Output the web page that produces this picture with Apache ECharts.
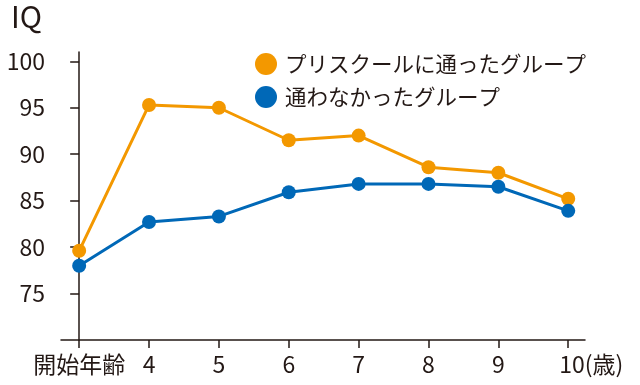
<!DOCTYPE html>
<html><head><meta charset="utf-8">
<script src="https://cdn.jsdelivr.net/npm/echarts@6/dist/echarts.min.js"></script>
<style>html,body{margin:0;padding:0;background:#fff}#c{width:640px;height:385px}</style>
</head><body><div id="c"></div>
<script>
const categories = ['開始年齢', '4', '5', '6', '7', '8', '9', '10'];
const preschool = [79.6, 95.3, 95.0, 91.5, 92.0, 88.6, 88.0, 85.2];
const noPreschool = [78.0, 82.7, 83.3, 85.9, 86.8, 86.8, 86.5, 83.9];
const yTicks = [75, 80, 85, 90, 95, 100];
const seriesNames = ['プリスクールに通ったグループ', '通わなかったグループ'];

const FONT = '"Noto Sans CJK JP", "Noto Sans", sans-serif';
const INK = '#231815';
const idx = categories.map((_, i) => i);
const chart = echarts.init(document.getElementById('c'), null, {renderer: 'canvas'});
chart.setOption({
  animation: false,
  backgroundColor: '#fff',
  textStyle: {fontFamily: FONT, color: INK},
  title: {text: 'IQ', left: 11, top: 2, padding: 0,
    textStyle: {fontFamily: FONT, fontSize: 30, fontWeight: 'normal', color: INK}},
  legend: {
    orient: 'vertical', left: 255, top: 53, padding: 0, itemGap: 11,
    itemWidth: 22, itemHeight: 22,
    data: [{name: seriesNames[0], icon: 'circle'}, {name: seriesNames[1], icon: 'circle'}],
    textStyle: {fontFamily: FONT, fontSize: 21.5, color: INK, lineHeight: 22, padding: [0, 0, 0, 3]}
  },
  grid: {left: 61, right: 55, top: 52, bottom: 45, containLabel: false},
  xAxis: {
    type: 'value', min: -0.26, max: 7.24, interval: 1,
    splitLine: {show: false},
    axisLine: {show: true, lineStyle: {color: INK, width: 1.5}},
    axisTick: {show: true, length: 8, lineStyle: {color: INK, width: 1.5}, customValues: idx},
    axisLabel: {
      customValues: idx, margin: 13, fontSize: 23, color: INK, fontFamily: FONT,
      formatter: v => {
        const i = Math.round(v);
        if (i === categories.length - 1) return '{pad|}' + categories[i] + '(歳)';
        return categories[i];
      },
      rich: {pad: {width: 46}}
    }
  },
  yAxis: {
    type: 'value', min: 70, max: 101, interval: 5,
    splitLine: {show: false},
    axisLine: {show: true, lineStyle: {color: INK, width: 1.5}},
    axisTick: {show: true, length: 9, lineStyle: {color: INK, width: 1.5}, customValues: yTicks},
    axisLabel: {customValues: yTicks, margin: 16, fontSize: 23, color: INK, fontFamily: FONT}
  },
  series: [
    {name: seriesNames[0], type: 'line', data: preschool.map((v, i) => [idx[i], v]),
      color: '#F39800', symbol: 'circle', symbolSize: 14,
      lineStyle: {width: 3, color: '#F39800'}, itemStyle: {color: '#F39800'}},
    {name: seriesNames[1], type: 'line', data: noPreschool.map((v, i) => [idx[i], v]),
      color: '#0068B7', symbol: 'circle', symbolSize: 14,
      lineStyle: {width: 3, color: '#0068B7'}, itemStyle: {color: '#0068B7'}}
  ]
});
</script></body></html>
